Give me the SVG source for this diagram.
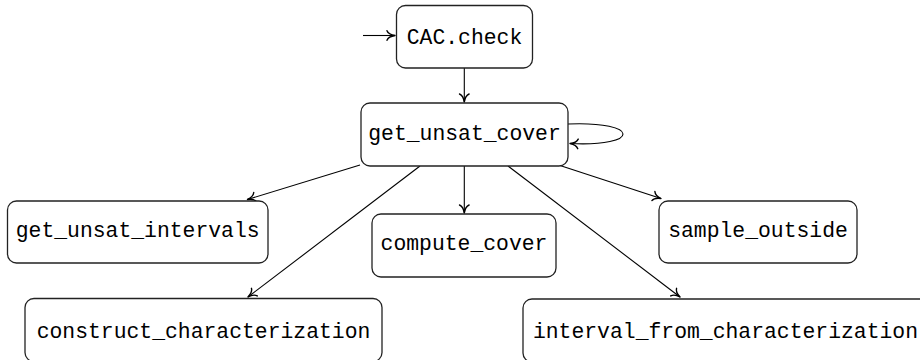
<svg xmlns="http://www.w3.org/2000/svg" width="920" height="360" viewBox="0 0 920 360">
  <style>
    .box { fill: #ffffff; stroke: #222222; stroke-width: 1.3; }
    .label { font-family: "Liberation Mono", "DejaVu Sans Mono", monospace; font-size: 21.4px; fill: #000000; text-anchor: middle; }
    .edge { fill: none; stroke: #000000; stroke-width: 1.1; marker-end: url(#arrow); }
  </style>
  <defs>
    <marker id="arrow" markerUnits="userSpaceOnUse" markerWidth="14" markerHeight="14" viewBox="-10 -7 12 14" refX="0" refY="0" orient="auto">
      <path d="M -8 -4.8 C -6.8 -1.8 -2.5 -0.4 0 0 C -2.5 0.4 -6.8 1.8 -8 4.8" fill="none" stroke="#000000" stroke-width="1.4" stroke-linecap="round" stroke-linejoin="round"/>
    </marker>
  </defs>

  <rect width="920" height="360" fill="#ffffff"/>

  <g id="connectors">
    <!-- initial entry -->
    <path class="edge" d="M 363 35.5 L 395 35.5"/>
    <!-- CAC.check to get_unsat_cover -->
    <path class="edge" d="M 464.3 68 L 464.3 102"/>
    <!-- recursive call -->
    <path class="edge" d="M 568 124 C 641 121 641 147 570 143.5"/>
    <!-- callees of get_unsat_cover -->
    <path class="edge" d="M 360 165 L 247.5 199.5"/>
    <path class="edge" d="M 420 166 L 248 297"/>
    <path class="edge" d="M 464.3 166 L 464.3 213"/>
    <path class="edge" d="M 508 166 L 680 297"/>
    <path class="edge" d="M 560 165.5 L 661 198.5"/>
  </g>

  <g id="cac_check">
    <rect class="box" x="396.5" y="5.5" width="136" height="62.5" rx="9"/>
    <text class="label" x="464.5" y="44">CAC.check</text>
  </g>

  <g id="get_unsat_cover">
    <rect class="box" x="361" y="103" width="207" height="63" rx="9"/>
    <text class="label" x="464.5" y="140">get_unsat_cover</text>
  </g>

  <g id="get_unsat_intervals">
    <rect class="box" x="7.5" y="201" width="260.5" height="62" rx="9"/>
    <text class="label" x="137.7" y="237">get_unsat_intervals</text>
  </g>

  <g id="compute_cover">
    <rect class="box" x="372" y="214" width="184" height="63" rx="9"/>
    <text class="label" x="464" y="250">compute_cover</text>
  </g>

  <g id="sample_outside">
    <rect class="box" x="659" y="201" width="198" height="62" rx="9"/>
    <text class="label" x="758" y="236.5">sample_outside</text>
  </g>

  <g id="construct_characterization">
    <rect class="box" x="25" y="298.5" width="357" height="63" rx="9"/>
    <text class="label" x="203.5" y="338">construct_characterization</text>
  </g>

  <g id="interval_from_characterization">
    <rect class="box" x="523" y="299" width="406" height="63" rx="9"/>
    <text class="label" x="725.5" y="337.5">interval_from_characterization</text>
  </g>
</svg>
